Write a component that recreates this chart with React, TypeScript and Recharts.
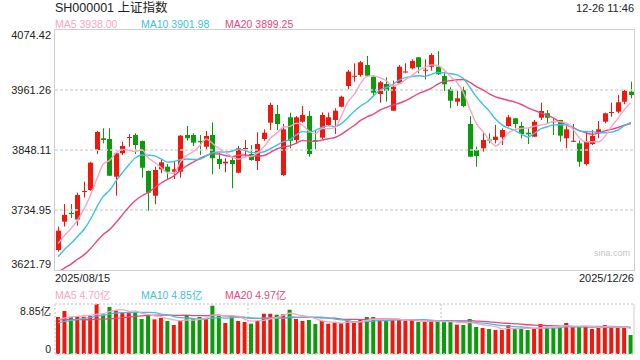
import React from 'react';
import { ComposedChart, Bar, Line, XAxis, YAxis, Cell, ReferenceLine } from 'recharts';

const dates = [
  '08-15',
  '08-18', '08-19', '08-20', '08-21', '08-22',
  '08-25', '08-26', '08-27', '08-28', '08-29',
  '09-01', '09-02', '09-03', '09-04', '09-05',
  '09-08', '09-09', '09-10', '09-11', '09-12',
  '09-15', '09-16', '09-17', '09-18', '09-19',
  '09-22', '09-23', '09-24', '09-25', '09-26',
  '09-29', '09-30', '10-09', '10-10',
  '10-13', '10-14', '10-15', '10-16', '10-17',
  '10-20', '10-21', '10-22', '10-23', '10-24',
  '10-27', '10-28', '10-29', '10-30', '10-31',
  '11-03', '11-04', '11-05', '11-06', '11-07',
  '11-10', '11-11', '11-12', '11-13', '11-14',
  '11-17', '11-18', '11-19', '11-20', '11-21',
  '11-24', '11-25', '11-26', '11-27', '11-28',
  '12-01', '12-02', '12-03', '12-04', '12-05',
  '12-08', '12-09', '12-10', '12-11', '12-12',
  '12-15', '12-16', '12-17', '12-18', '12-19',
  '12-22', '12-23', '12-24', '12-25', '12-26',
];

const opens = [
  3659.5, 3712.9, 3729.3, 3717.0, 3769.3, 3772.7, 3848.1, 3870.2, 3868.9, 3797.7,
  3841.9, 3870.7, 3876.4, 3865.1, 3808.5, 3761.9, 3811.7, 3816.6, 3807.2, 3807.2,
  3876.4, 3876.4, 3865.1, 3854.3, 3876.4, 3831.1, 3823.0, 3829.2, 3805.3, 3850.0,
  3840.6, 3827.4, 3868.9, 3899.6, 3916.0, 3801.0, 3909.8, 3867.0, 3901.5, 3912.2,
  3866.6, 3871.3, 3895.3, 3904.7, 3929.8, 3968.8, 3986.7, 3989.6, 4008.4, 3986.3,
  3953.7, 3972.6, 3922.2, 3973.9, 3994.8, 4002.2, 4022.9, 3998.0, 4005.2, 4005.2,
  3987.7, 3962.6, 3939.2, 3961.3, 3897.1, 3848.1, 3851.3, 3867.7, 3867.0, 3872.1,
  3893.4, 3907.9, 3893.4, 3880.7, 3873.2, 3909.0, 3917.3, 3902.2, 3904.7, 3870.2,
  3864.1, 3860.7, 3821.7, 3859.4, 3879.6, 3901.5, 3918.5, 3920.3, 3939.2, 3958.1,
];

const highs = [
  3703.5, 3746.3, 3746.3, 3767.6, 3788.3, 3826.0, 3884.0, 3889.0, 3889.0, 3843.0,
  3863.8, 3878.3, 3879.6, 3866.0, 3809.4, 3816.6, 3831.1, 3821.7, 3826.0, 3876.4,
  3893.4, 3879.6, 3876.4, 3884.0, 3900.3, 3841.9, 3832.5, 3836.8, 3855.7, 3867.0,
  3857.5, 3881.5, 3887.1, 3937.3, 3933.0, 3897.1, 3918.5, 3912.2, 3931.1, 3921.7,
  3885.8, 3919.2, 3918.5, 3926.8, 3950.5, 3999.0, 4011.6, 4016.0, 4025.4, 3987.1,
  3978.2, 3985.2, 3978.8, 4008.4, 4011.6, 4019.2, 4023.5, 4019.2, 4030.5, 4034.8,
  3992.8, 3966.4, 3959.9, 3967.5, 3912.2, 3854.3, 3882.6, 3879.6, 3895.3, 3889.0,
  3914.1, 3908.5, 3901.5, 3889.0, 3904.7, 3937.3, 3923.5, 3906.6, 3905.1, 3893.4,
  3897.1, 3866.0, 3882.6, 3885.8, 3902.8, 3918.5, 3937.3, 3951.8, 3961.3, 3976.9,
];

const lows = [
  3656.3, 3703.5, 3719.9, 3705.3, 3758.5, 3771.3, 3840.6, 3860.7, 3799.1, 3761.9,
  3838.7, 3854.3, 3840.6, 3795.9, 3733.6, 3745.7, 3804.2, 3793.4, 3793.4, 3795.9,
  3865.6, 3855.7, 3838.7, 3849.4, 3802.3, 3812.3, 3806.1, 3775.9, 3804.2, 3835.5,
  3827.9, 3810.4, 3865.6, 3885.8, 3885.8, 3799.1, 3851.3, 3859.4, 3899.6, 3835.5,
  3850.0, 3868.9, 3893.4, 3878.3, 3928.6, 3962.6, 3976.9, 3986.3, 3986.3, 3951.8,
  3937.3, 3939.2, 3921.7, 3972.6, 3992.8, 4000.3, 3992.8, 3981.4, 3997.7, 3989.6,
  3959.4, 3926.8, 3931.1, 3928.6, 3835.0, 3816.6, 3844.9, 3860.7, 3860.7, 3857.5,
  3892.1, 3889.0, 3870.2, 3859.4, 3873.0, 3904.7, 3898.5, 3876.4, 3863.8, 3851.3,
  3863.2, 3816.6, 3818.5, 3857.5, 3870.2, 3898.5, 3910.9, 3917.3, 3934.3, 3945.6,
];

const closes = [
  3695.9, 3725.5, 3727.4, 3763.2, 3770.8, 3824.2, 3882.1, 3867.0, 3799.6, 3841.9,
  3855.7, 3872.6, 3857.5, 3814.7, 3767.6, 3810.4, 3824.9, 3807.2, 3811.7, 3875.1,
  3870.2, 3861.9, 3862.8, 3874.5, 3832.5, 3821.7, 3826.0, 3821.7, 3851.3, 3851.9,
  3829.2, 3859.4, 3880.7, 3933.0, 3897.1, 3887.1, 3865.6, 3909.8, 3914.1, 3840.6,
  3865.1, 3914.1, 3909.8, 3922.2, 3948.6, 3995.8, 3988.2, 4013.5, 3988.2, 3956.2,
  3975.8, 3959.9, 3967.5, 4005.2, 3996.2, 4016.0, 4004.1, 3999.5, 4027.3, 3990.9,
  3972.0, 3941.1, 3945.6, 3931.1, 3835.5, 3836.8, 3867.0, 3866.2, 3873.2, 3885.8,
  3909.8, 3897.1, 3878.3, 3877.7, 3901.5, 3921.7, 3909.0, 3900.9, 3875.1, 3887.1,
  3865.5, 3826.0, 3865.1, 3874.5, 3887.1, 3917.3, 3919.8, 3938.1, 3959.4, 3951.8,
];

// closes of the 19 sessions before the window (needed for the moving averages)
const priorCloses = [
  3559.8, 3581.9, 3582.3, 3605.7, 3593.7, 3597.9, 3609.7, 3615.7, 3573.2, 3560.0,
  3583.3, 3617.6, 3634.0, 3639.7, 3635.1, 3647.6, 3665.9, 3683.5, 3666.4,
];

// volume, 亿
const volumes = [
  6.55, 7.61, 6.6, 6.55, 6.6, 6.73, 8.85, 7.02, 8.32, 7.79,
  7.31, 7.31, 7.38, 6.2, 6.78, 6.14, 6.37, 5.84, 5.13, 5.84,
  6.9, 6.2, 6.55, 6.2, 8.55, 6.78, 5.49, 6.78, 5.84, 5.66,
  5.36, 5.84, 7.13, 7.13, 6.96, 7.02, 7.84, 6.2, 5.84, 6.02,
  5.31, 5.84, 5.37, 5.55, 5.43, 6.02, 5.6, 6.02, 6.55, 6.55,
  6.02, 6.02, 6.02, 6.2, 5.9, 6.02, 5.66, 5.66, 5.9, 5.84,
  5.66, 5.66, 5.19, 5.13, 6.2, 4.78, 4.6, 4.43, 4.25, 4.25,
  5.13, 4.43, 4.55, 4.25, 4.55, 5.31, 4.84, 4.72, 4.84, 5.49,
  4.84, 4.84, 4.84, 4.43, 4.72, 5.13, 4.84, 4.6, 4.6, 3.36,
];

const priorVolumes = [
  6.8, 6.6, 7.0, 6.7, 6.9, 6.5, 6.8, 7.1, 6.6,
  5.0, 4.8, 5.1, 4.7, 4.9, 5.2,
  6.0, 5.8, 6.1, 5.9,
];

const priceTicks = [3621.79, 3734.95, 3848.11, 3961.26, 4074.42];
const volTicks = [0, 8.85];
const priceLegend = [
  { name: 'MA5', value: '3938.00' },
  { name: 'MA10', value: '3901.98' },
  { name: 'MA20', value: '3899.25' },
];
const volLegend = [
  { name: 'MA5', value: '4.70亿' },
  { name: 'MA10', value: '4.85亿' },
  { name: 'MA20', value: '4.97亿' },
];
const title = 'SH000001 上证指数';
const timeStamp = '12-26 11:46';
const startLabel = '2025/08/15';
const endLabel = '2025/12/26';

const RED = '#f0180c';
const GREEN = '#0b9b0b';
const C_MA5 = '#ffa3c3';
const C_MA10 = '#3cc3e0';
const C_MA20 = '#ea4680';
const maColors = [C_MA5, C_MA10, C_MA20];
const GRID = '#d6d6d6';
const FONT = "Arial, 'Liberation Sans', 'Noto Sans CJK SC', sans-serif";

function movingAvg(values: number[], prior: number[], n: number): number[] {
  const all = [...prior, ...values];
  return values.map((_, i) => {
    const end = prior.length + i;
    let s = 0;
    for (let k = end - n + 1; k <= end; k++) s += all[k];
    return s / n;
  });
}

const ma5 = movingAvg(closes, priorCloses, 5);
const ma10 = movingAvg(closes, priorCloses, 10);
const ma20 = movingAvg(closes, priorCloses, 20);
const vma5 = movingAvg(volumes, priorVolumes, 5);
const vma10 = movingAvg(volumes, priorVolumes, 10);
const vma20 = movingAvg(volumes, priorVolumes, 20);

const data = dates.map((d, i) => ({
  date: d,
  open: opens[i],
  high: highs[i],
  low: lows[i],
  close: closes[i],
  range: [lows[i], highs[i]],
  ma5: ma5[i],
  ma10: ma10[i],
  ma20: ma20[i],
  vol: volumes[i],
  vma5: vma5[i],
  vma10: vma10[i],
  vma20: vma20[i],
}));

const Candle = (props: any) => {
  const { x, y, width, height, payload } = props;
  if (!payload || height == null) return null;
  const { open, close, high, low } = payload;
  const color = close >= open ? RED : GREEN;
  const ratio = height / (high - low);
  const cx = Math.round(x + width / 2 - 0.5) + 0.5;
  const bodyTop = y + (high - Math.max(open, close)) * ratio;
  const bodyH = Math.max(1, Math.abs(open - close) * ratio);
  return (
    <g>
      <line x1={cx} x2={cx} y1={y} y2={y + height} stroke={color} strokeWidth={1} />
      <rect x={cx - 2.5} y={bodyTop} width={5} height={bodyH} fill={color} />
    </g>
  );
};

const PriceTick = (props: any) => {
  const { y, payload } = props;
  const v = payload.value;
  let cy = y;
  if (v === priceTicks[priceTicks.length - 1]) cy = y + 5;
  else if (v === priceTicks[0]) cy = y - 6;
  return (
    <text x={51} y={cy} dy="0.35em" textAnchor="end" fontSize={11} fill="#222" fontFamily={FONT}>
      {v.toFixed(2)}
    </text>
  );
};

const VolTick = (props: any) => {
  const { y, payload } = props;
  const v = payload.value;
  const cy = v === 0 ? y - 5 : y + 7;
  return (
    <text x={51} y={cy} dy="0.35em" textAnchor="end" fontSize={10.5} fill="#222" fontFamily={FONT}>
      {v === 0 ? '0' : `${v}亿`}
    </text>
  );
};

const Txt = ({ x, y, text, color, size, align }: any) => (
  <div
    style={{
      position: 'absolute',
      left: align === 'right' ? undefined : x,
      right: align === 'right' ? 640 - x : undefined,
      top: y - 8,
      height: 16,
      lineHeight: '16px',
      fontSize: size,
      color,
      whiteSpace: 'nowrap',
      fontFamily: FONT,
    }}
  >
    {text}
  </div>
);

const legendX = [55, 141, 225];

export default function App() {
  return (
    <div style={{ position: 'absolute', left: 0, top: 0, width: 640, height: 360, background: '#fff', overflow: 'hidden' }}>
      <div style={{ position: 'absolute', left: 0, top: 0 }}>
        <ComposedChart width={640} height={272} data={data} margin={{ top: 30, right: 6, bottom: 2, left: 0 }}>
          <XAxis dataKey="date" hide />
          <YAxis
            width={55}
            domain={[priceTicks[0], priceTicks[priceTicks.length - 1]]}
            ticks={priceTicks}
            interval={0}
            axisLine={false}
            tickLine={false}
            tick={<PriceTick />}
            allowDataOverflow
          />
          {priceTicks.slice(1, -1).map((t) => (
            <ReferenceLine key={t} y={t} stroke={GRID} strokeWidth={1.5} strokeDasharray="3 2" />
          ))}
          <Bar dataKey="range" barSize={5} shape={<Candle />} isAnimationActive={false} />
          <Line type="monotone" dataKey="ma20" stroke={C_MA20} strokeWidth={1.4} dot={false} isAnimationActive={false} />
          <Line type="monotone" dataKey="ma10" stroke={C_MA10} strokeWidth={1.4} dot={false} isAnimationActive={false} />
          <Line type="monotone" dataKey="ma5" stroke={C_MA5} strokeWidth={1.4} dot={false} isAnimationActive={false} />
        </ComposedChart>
      </div>
      <div
        style={{
          position: 'absolute',
          left: 54,
          top: 29,
          width: 581,
          height: 242,
          border: '1px solid #cfcfcf',
          boxSizing: 'border-box',
          pointerEvents: 'none',
        }}
      />
      <div style={{ position: 'absolute', left: 0, top: 290 }}>
        <ComposedChart width={640} height={70} data={data} margin={{ top: 14, right: 6, bottom: 6, left: 0 }}>
          <XAxis dataKey="date" hide />
          <YAxis
            width={55}
            domain={[volTicks[0], volTicks[1]]}
            ticks={volTicks}
            interval={0}
            axisLine={false}
            tickLine={false}
            tick={<VolTick />}
            allowDataOverflow
          />
          {volTicks.map((t) => (
            <ReferenceLine key={t} y={t} stroke={GRID} strokeWidth={1.5} strokeDasharray="2 2" />
          ))}
          <ReferenceLine x={dates[0]} position="start" stroke={GRID} strokeWidth={1.5} strokeDasharray="2 2" />
          <ReferenceLine x={dates[30]} position="start" stroke={GRID} strokeWidth={1.5} strokeDasharray="2 2" />
          <ReferenceLine x={dates[60]} position="start" stroke={GRID} strokeWidth={1.5} strokeDasharray="2 2" />
          <ReferenceLine x={dates[dates.length - 1]} position="end" stroke="#cfcfcf" strokeWidth={1} />
          <Bar dataKey="vol" barSize={4} isAnimationActive={false}>
            {data.map((d, i) => (
              <Cell key={i} fill={d.close >= d.open ? RED : GREEN} />
            ))}
          </Bar>
          <Line type="monotone" dataKey="vma20" stroke={C_MA20} strokeWidth={1.3} dot={false} isAnimationActive={false} />
          <Line type="monotone" dataKey="vma10" stroke={C_MA10} strokeWidth={1.3} dot={false} isAnimationActive={false} />
          <Line type="monotone" dataKey="vma5" stroke={C_MA5} strokeWidth={1.3} dot={false} isAnimationActive={false} />
        </ComposedChart>
      </div>

      <Txt x={55} y={8} text={title} color="#222" size={12.5} />
      <Txt x={634} y={7.5} text={timeStamp} color="#222" size={11} align="right" />
      {priceLegend.map((l, i) => (
        <Txt key={l.name} x={legendX[i]} y={24} text={`${l.name} ${l.value}`} color={maColors[i]} size={10.5} />
      ))}
      <Txt x={55} y={278} text={startLabel} color="#222" size={11} />
      <Txt x={634} y={278} text={endLabel} color="#222" size={11} align="right" />
      {volLegend.map((l, i) => (
        <Txt key={l.name} x={legendX[i]} y={294.5} text={`${l.name} ${l.value}`} color={maColors[i]} size={10.5} />
      ))}
      <Txt x={630} y={253} text="sina.com" color="#c4c4c4" size={9} align="right" />
    </div>
  );
}
